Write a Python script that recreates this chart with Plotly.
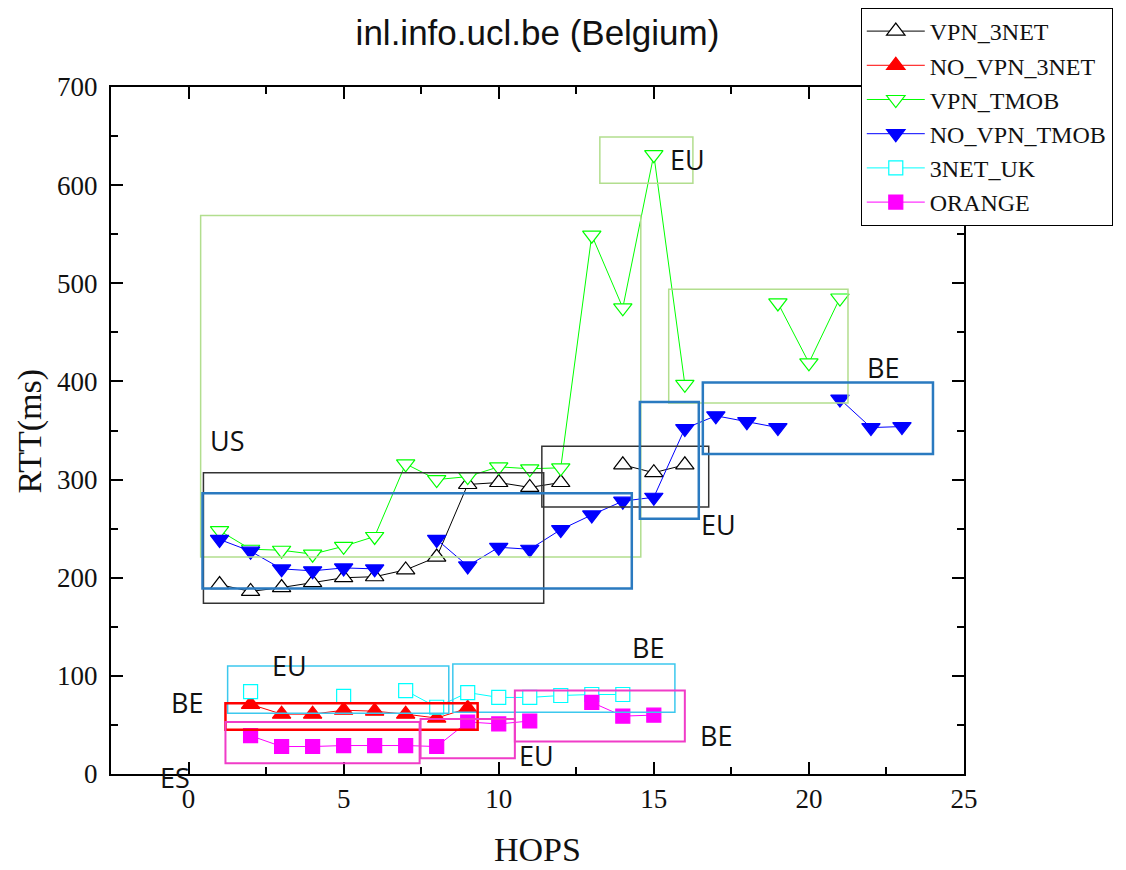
import plotly.graph_objects as go

hops = list(range(1, 24))

def series(d):
    return [d.get(h) for h in hops]

vpn_3net = series({1: 193, 2: 186, 3: 190, 4: 195, 5: 200, 6: 201, 7: 208, 8: 221,
                   9: 295, 10: 297, 11: 292, 12: 297, 14: 315, 15: 307, 16: 315})
no_vpn_3net = series({2: 71, 3: 61, 4: 61, 5: 65, 6: 64, 7: 61, 8: 57, 9: 67})
vpn_tmob = series({1: 248, 2: 229, 3: 228, 4: 224, 5: 232, 6: 242, 7: 316, 8: 300,
                   9: 303, 10: 313, 11: 311, 12: 312, 13: 549, 14: 475, 15: 631,
                   16: 397, 19: 480, 20: 419, 21: 485})
no_vpn_tmob = series({1: 239, 2: 227, 3: 209, 4: 207, 5: 210, 6: 209, 8: 239, 9: 212,
                      10: 231, 11: 229, 12: 249, 13: 264, 14: 278, 15: 282, 16: 352,
                      17: 365, 18: 359, 19: 353, 21: 382, 22: 353, 23: 354})
net3_uk = series({2: 84, 5: 79, 7: 85, 8: 68, 9: 83, 10: 78, 11: 78, 12: 80, 13: 81, 14: 81})
orange = series({2: 39, 3: 28, 4: 28, 5: 29, 6: 29, 7: 29, 8: 28, 9: 53, 10: 51, 11: 54,
                 13: 73, 14: 59, 15: 60})

names = ["VPN_3NET", "NO_VPN_3NET", "VPN_TMOB", "NO_VPN_TMOB", "3NET_UK", "ORANGE"]
values = [vpn_3net, no_vpn_3net, vpn_tmob, no_vpn_tmob, net3_uk, orange]
colors = ["#000000", "#ff0000", "#00ff00", "#0000ff", "#00ffff", "#ff00ff"]
symbols = ["triangle-up", "triangle-up", "triangle-down", "triangle-down", "square", "square"]
filled = [False, True, False, True, False, True]
sizes = [16, 16, 16, 16, 14, 14]

# region boxes: (x0, x1, y0, y1, color, width)
boxes = [
    (0.39, 14.58, 221, 569, "#b2de8e", 1.5),
    (13.26, 16.26, 602, 649, "#b2de8e", 1.5),
    (15.48, 21.26, 378, 494, "#b2de8e", 1.5),
    (0.48, 11.45, 174, 307, "#333333", 1.5),
    (11.39, 16.77, 272, 334, "#333333", 1.5),
    (0.45, 14.29, 189, 286, "#2a7ac0", 2.5),
    (14.55, 16.45, 260, 379, "#2a7ac0", 2.5),
    (16.58, 24.0, 326, 399, "#2a7ac0", 2.5),
    (1.26, 8.39, 62, 110, "#3cc8ee", 1.5),
    (8.52, 15.68, 63, 112, "#3cc8ee", 1.5),
    (1.19, 9.32, 45, 72, "#ff0000", 2.5),
    (1.19, 7.45, 11, 53, "#f03cc8", 2),
    (7.48, 10.52, 16, 56, "#f03cc8", 2),
    (10.52, 16.0, 33, 85, "#f03cc8", 2),
]

# region labels: (x, y, text)
labels = [
    (1.26, 340, "US"), (16.1, 626, "EU"), (22.39, 414, "BE"), (17.1, 254, "EU"),
    (3.26, 111, "EU"), (-0.06, 73, "BE"), (14.81, 129, "BE"),
    (17.0, 39, "BE"), (11.23, 19, "EU"),
]
label_font = dict(family="Open Sans", size=27, color="#111111")

fig = go.Figure()
for n, v, c, s, f, sz in zip(names, values, colors, symbols, filled, sizes):
    fig.add_trace(go.Scatter(
        x=hops, y=v, name=n, mode="lines+markers",
        line=dict(color=c, width=1),
        marker=dict(symbol=s, size=sz, color=c if f else "white",
                    line=dict(color=c, width=1.2)),
        cliponaxis=False,
    ))

shapes = [dict(type="rect", xref="x", yref="y", x0=b[0], x1=b[1], y0=b[2], y1=b[3],
               line=dict(color=b[4], width=b[5]), layer="above") for b in boxes]

annotations = [dict(x=l[0], y=l[1], xref="x", yref="y", text=l[2], showarrow=False,
                    xanchor="center", yanchor="middle", font=label_font)
               for l in labels]
annotations += [
    dict(x=-0.45, y=-0.004, xref="x", yref="paper", text="ES", showarrow=False,
         xanchor="center", yanchor="middle", height=24, valign="middle", font=label_font),
    dict(text="HOPS", x=0.5, y=-0.11, xref="paper", yref="paper", showarrow=False,
         xanchor="center", yanchor="middle",
         font=dict(family="Liberation Serif", size=34, color="#111111")),
    dict(text="RTT(ms)", x=-0.095, y=0.5, xref="paper", yref="paper", showarrow=False,
         xanchor="center", yanchor="middle",
         textangle=-90, font=dict(family="Liberation Serif", size=34, color="#111111")),
]

axis_common = dict(
    showline=True, linecolor="black", linewidth=2, mirror="ticks",
    ticks="inside", ticklen=12, tickwidth=2, tickcolor="black",
    showgrid=False, zeroline=False,
    tickfont=dict(family="Liberation Serif", size=27, color="#111111"),
)

fig.update_layout(
    width=1126, height=870,
    margin=dict(l=111, r=162, t=87, b=96, autoexpand=False),
    paper_bgcolor="white", plot_bgcolor="white",
    title=dict(text="inl.info.ucl.be (Belgium)", x=0.5, xref="paper",
               y=1 - 33 / 870, yref="container", yanchor="middle",
               font=dict(family="Liberation Sans", size=35, color="#111111")),
    xaxis=dict(range=[-2.5, 25], dtick=5, tick0=0,
               minor=dict(dtick=2.5, ticks="inside", ticklen=7, tickwidth=2, tickcolor="black"),
               **axis_common),
    yaxis=dict(range=[0, 700], dtick=100, tick0=0, ticklabelstandoff=6,
               minor=dict(dtick=50, ticks="inside", ticklen=7, tickwidth=2, tickcolor="black"),
               **axis_common),
    legend=dict(x=0.879, y=1.115, xanchor="left", yanchor="top",
                bgcolor="white", bordercolor="black", borderwidth=1,
                font=dict(family="Liberation Serif", size=24, color="#111111"),
                itemwidth=58, tracegroupgap=0),
    shapes=shapes,
    annotations=annotations,
    showlegend=True,
)

fig.write_html("out.html")
